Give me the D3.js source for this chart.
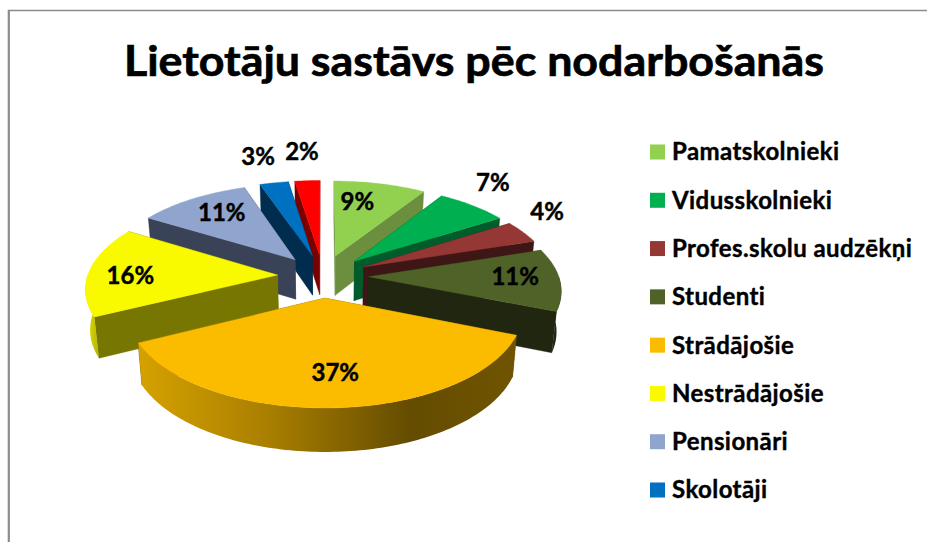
<!DOCTYPE html>
<html>
<head>
<meta charset="utf-8">
<script src="https://cdn.jsdelivr.net/npm/d3@7/dist/d3.min.js"></script>
<style>
html,body{margin:0;padding:0;background:#fff;}
svg{display:block;font-family:Lato,"Open Sans",sans-serif;font-weight:700;}
</style>
</head>
<body>
<script>
const titleText = "Lietotāju sastāvs pēc nodarbošanās";
const categories = ["Pamatskolnieki","Vidusskolnieki","Profes.skolu audzēkņi","Studenti","Strādājošie","Nestrādājošie","Pensionāri","Skolotāji",""];
const values = [9,7,4,11,36.6,16,11,2.8,2.45];
const topColors = ["#92d050","#00b050","#953735","#4f6228","#fbbc00","#f9f900","#8fa5cd","#0070c0","#ff0000"];
const wallColors = ["#6b8f3e","#005c2a","#3e1616","#20260f","#6b5000","#767600","#3a4257","#002d4e","#7b0000"];
const labelRadius = [.71,1.355,1.29,.77,.714,.775,.735,1.418,1.454];
const labelAngle = [11,39.6,57.2,90.3,176.2,269.7,323.6,345.5,355.4];

const W=927,H=542;
const cx=323, cy=276, A=190, B=89.4, k=.129, explode=.24, depth=40, bottomScale=.98;
const xScale=d3.scaleLinear().domain([-1,1]).range([cx-A,cx+A]);
const yScale=d3.scaleLinear().domain([-1,1]).range([cy-B,cy+B]);

const svg=d3.select("body").append("svg").attr("width",W).attr("height",H);

const defs=svg.append("defs");
const g1=defs.append("linearGradient").attr("id","wall4");
[[0,"#d6a200"],[.35,"#a87e00"],[.72,"#644c00"],[1,"#705400"]].forEach(s=>g1.append("stop").attr("offset",s[0]).attr("stop-color",s[1]));
const g2=defs.append("linearGradient").attr("id","wall5");
[[0,"#e6e600"],[1,"#b4b400"]].forEach(s=>g2.append("stop").attr("offset",s[0]).attr("stop-color",s[1]));

// frame
svg.append("line").attr("x1",8).attr("y1",10.5).attr("x2",W).attr("y2",10.5).attr("stroke","#8c8c8c").attr("stroke-width",1.4);
svg.append("line").attr("x1",8.8).attr("y1",10).attr("x2",8.8).attr("y2",H).attr("stroke","#8c8c8c").attr("stroke-width",2.2);

// perspective projection of disc coordinates (u right, v toward viewer)
function project(u,v,z){
  const s=1/(1-k*v);
  let x=xScale(u*s), y=yScale(v*s);
  if(z){ x=cx+(x-cx)*bottomScale; y+=depth*Math.pow(s,.55); }
  return [x,y];
}
const line=d3.line();
const pie=d3.pie().sort(null).value(d=>d)(values);

const slices=pie.map((p,i)=>{
  const mid=(p.startAngle+p.endAngle)/2;
  return {i,p,mid,u0:explode*Math.sin(mid),v0:-explode*Math.cos(mid)};
});
function rim(sl,a,r,z){
  return project(sl.u0+r*Math.sin(a),sl.v0-r*Math.cos(a),z);
}
function arcAngles(a0,a1){
  const n=Math.max(2,Math.ceil((a1-a0)/0.02));
  return d3.range(n+1).map(j=>a0+(a1-a0)*j/n);
}
function face(g,pts,fill){
  g.append("path").attr("d",line(pts)+"Z").attr("fill",fill).attr("stroke",fill).attr("stroke-width",.4).attr("stroke-linejoin","round");
}

const pieG=svg.append("g");
slices.slice().sort((a,b)=>(-Math.cos(a.mid))-(-Math.cos(b.mid))).forEach(sl=>{
  const g=pieG.append("g"), a0=sl.p.startAngle, a1=sl.p.endAngle, w=wallColors[sl.i];
  const apexT=project(sl.u0,sl.v0,0), apexB=project(sl.u0,sl.v0,1);
  // radial walls
  face(g,[apexT,rim(sl,a0,1,0),rim(sl,a0,1,1),apexB],w);
  face(g,[apexT,rim(sl,a1,1,0),rim(sl,a1,1,1),apexB],w);
  // outer wall, viewer-facing part only
  const f0=Math.max(a0,Math.PI/2), f1=Math.min(a1,Math.PI*1.5);
  if(f1>f0){
    const as=arcAngles(f0,f1);
    const fill=sl.i===4?"url(#wall4)":sl.i===5?"url(#wall5)":w;
    g.append("path").attr("d",line(as.map(a=>rim(sl,a,1,0)).concat(as.slice().reverse().map(a=>rim(sl,a,1,1))))+"Z").attr("fill",fill);
  }
  // top
  face(g,[apexT].concat(arcAngles(a0,a1).map(a=>rim(sl,a,1,0))),topColors[sl.i]);
});

// data labels
slices.forEach(sl=>{
  const pos=rim(sl,labelAngle[sl.i]*Math.PI/180,labelRadius[sl.i],0);
  svg.append("text").attr("x",pos[0]).attr("y",pos[1]).attr("dy",".35em").attr("text-anchor","middle")
    .attr("font-size",24).attr("fill","#000").attr("stroke","#000").attr("stroke-width",.45).text(Math.round(values[sl.i])+"%");
});

// title
svg.append("text").attr("x",474).attr("y",76).attr("text-anchor","middle").attr("font-size",42)
  .attr("textLength",700).attr("lengthAdjust","spacingAndGlyphs").attr("fill","#000").attr("stroke","#000").attr("stroke-width",.7).text(titleText);

// legend
const legendNames=categories.filter(c=>c);
const legendY=d3.scalePoint().domain(legendNames).range([152,490]);
const leg=svg.append("g").selectAll("g").data(legendNames).join("g")
  .attr("transform",d=>`translate(650,${legendY(d)})`);
leg.append("rect").attr("x",0).attr("y",-7.5).attr("width",15).attr("height",15).attr("fill",(d,i)=>topColors[i]);
leg.append("text").attr("x",22).attr("dy",".35em").attr("font-size",24).attr("letter-spacing",.42).attr("fill","#000").attr("stroke","#000").attr("stroke-width",.4).text(d=>d);
</script>
</body>
</html>
